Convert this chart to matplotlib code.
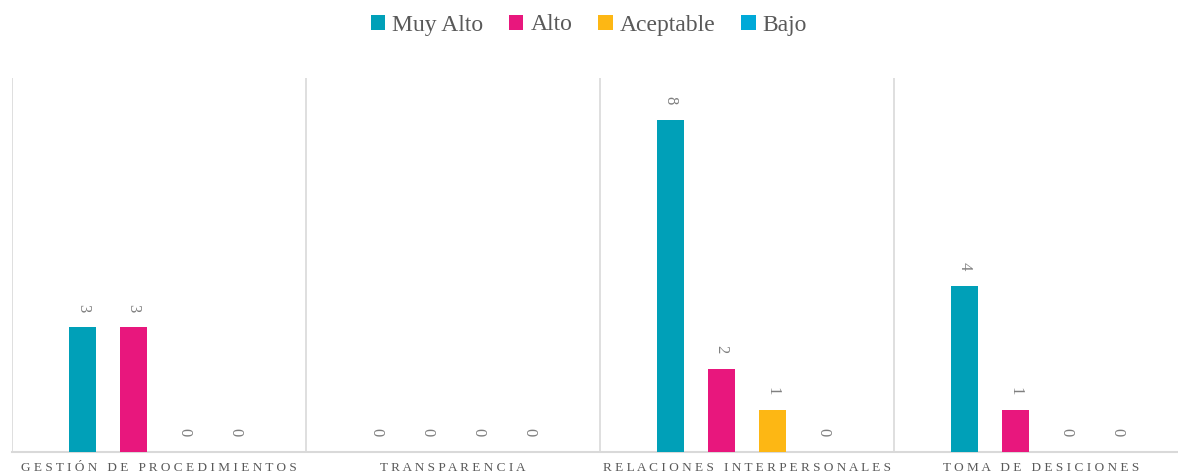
import numpy as np
import matplotlib.pyplot as plt

categorias = ["GESTIÓN DE PROCEDIMIENTOS", "TRANSPARENCIA",
              "RELACIONES INTERPERSONALES", "TOMA DE DESICIONES"]
series = ["Muy Alto", "Alto", "Aceptable", "Bajo"]
muy_alto = [3, 0, 8, 4]
alto = [3, 0, 2, 1]
aceptable = [0, 0, 1, 0]
bajo = [0, 0, 0, 0]
colores = ["#00A0B8", "#E8177D", "#FDB714", "#00A9D8"]

valores = [muy_alto, alto, aceptable, bajo]

plt.rcParams['font.family'] = ['Liberation Serif', 'DejaVu Serif']

fig = plt.figure(figsize=(11.78, 4.76), dpi=100)
ax = fig.add_axes([12/1178, 24/476, 1176/1178, 374/476])

x = np.arange(len(categorias))
ancho = 0.092
paso = 0.173
for i, (nombre, vals, c) in enumerate(zip(series, valores, colores)):
    pos = x + (i - 1.5) * paso
    barras = ax.bar(pos, vals, width=ancho, color=c, label=nombre, zorder=3)
    for b, v in zip(barras, vals):
        ax.annotate(str(v), (b.get_x() + b.get_width()/2, v),
                    xytext=(0, 11), textcoords='offset points',
                    ha='center', va='bottom', rotation=-90,
                    fontsize=12, color='#7F7F7F')

ax.set_xlim(-0.5, len(categorias) - 0.5)
ax.set_ylim(0, 9)
ax.set_yticks([])
ax.set_xticks([])
for s in ['top', 'right', 'left']:
    ax.spines[s].set_visible(False)
ax.spines['bottom'].set_color('#D9D9D9')
ax.spines['bottom'].set_linewidth(1.5)
for b in np.arange(-0.5, len(categorias)):
    ax.axvline(b, color='#D9D9D9', lw=1.2, zorder=1)

def espaciar(t):
    return "   ".join(" ".join(p) for p in t.split(" "))

for xi, cat in zip(x, categorias):
    ax.text(xi, -0.026, espaciar(cat), ha='center', va='top',
            fontsize=9.5, color='#595959', transform=ax.get_xaxis_transform())

fig.legend(loc='center', bbox_to_anchor=(0.5, 1 - 25/476), ncol=4,
           frameon=False, fontsize=17, handlelength=0.6, handleheight=0.6,
           handletextpad=0.3, columnspacing=1.1, labelcolor='#595959')

fig.savefig('out.png', dpi=100)
